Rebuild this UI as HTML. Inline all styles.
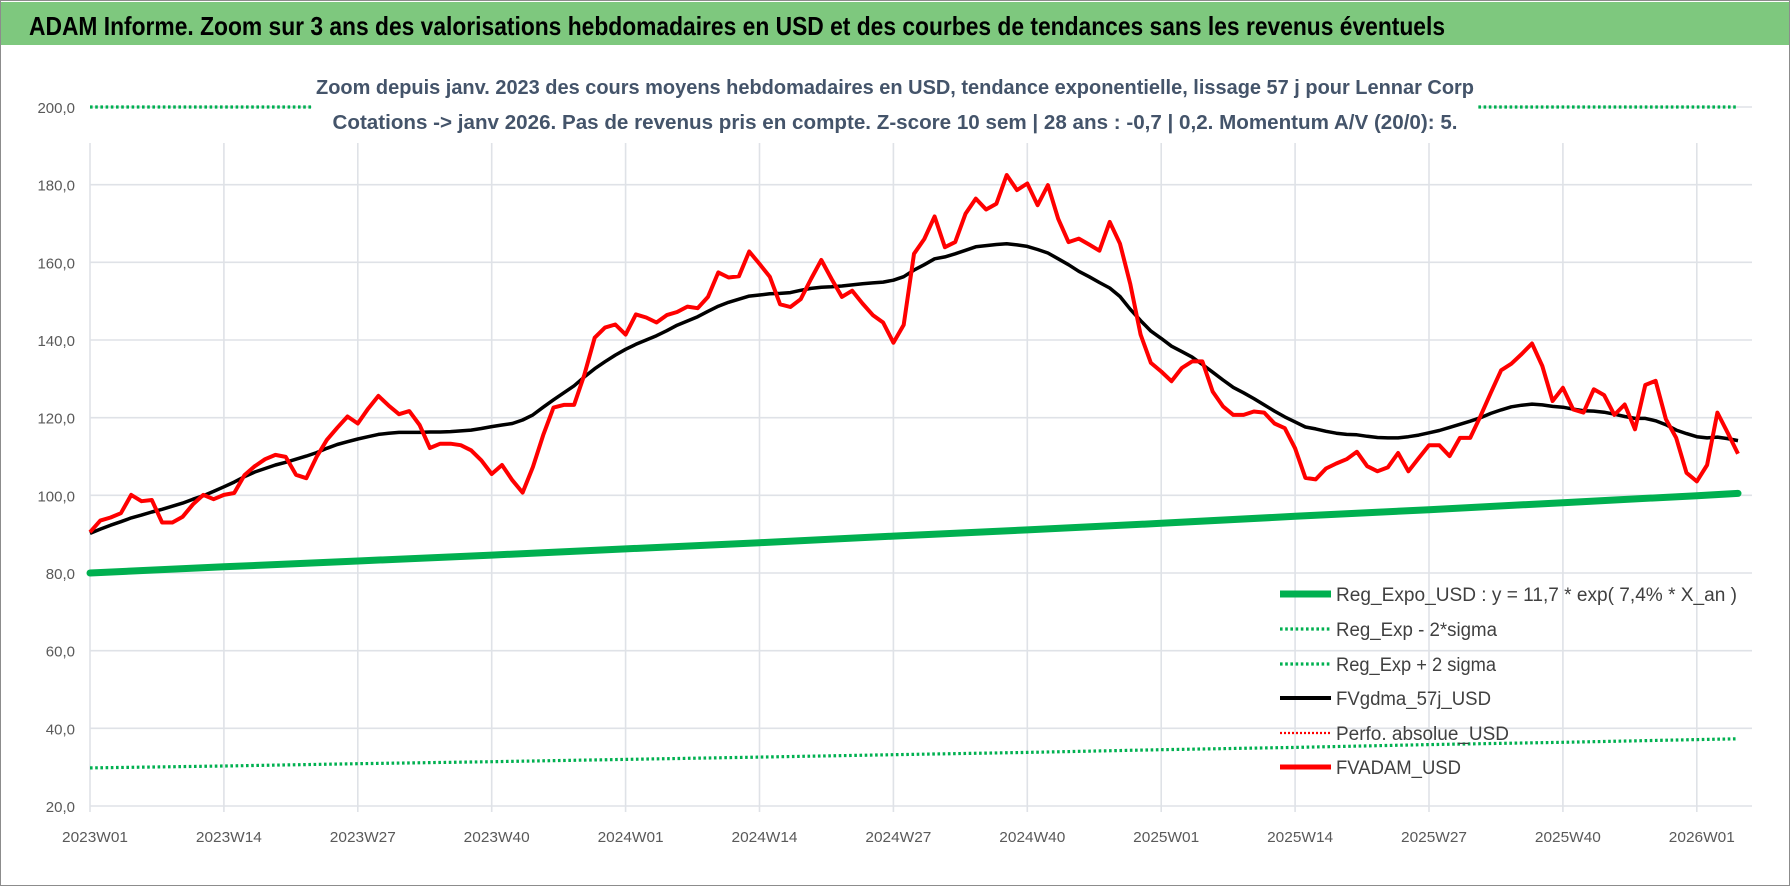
<!DOCTYPE html>
<html><head><meta charset="utf-8"><style>
html,body{margin:0;padding:0;background:#fff;}
svg{display:block;font-family:"Liberation Sans",sans-serif;}
</style></head><body>
<svg id="chart" width="1790" height="886" viewBox="0 0 1790 886" xmlns="http://www.w3.org/2000/svg">
<rect x="0.5" y="0.5" width="1789" height="885" fill="#fff" stroke="#8c8c8c" stroke-width="1"/>
<rect x="1" y="2" width="1788" height="43" fill="#7ec87e"/>
<text x="29" y="35" font-size="26" font-weight="bold" fill="#000" textLength="1416" lengthAdjust="spacingAndGlyphs">ADAM Informe. Zoom sur 3 ans des valorisations hebdomadaires en USD et des courbes de tendances sans les revenus éventuels</text>
<g id="grid"></g>
<g id="series"></g>
<rect x="312" y="60" width="1166" height="82" fill="#fff"/>
<text x="895" y="94" text-anchor="middle" font-size="20" font-weight="bold" fill="#44546a" textLength="1158" lengthAdjust="spacingAndGlyphs">Zoom depuis janv. 2023 des cours moyens hebdomadaires en USD, tendance exponentielle, lissage 57 j pour Lennar Corp</text>
<text x="895" y="129" text-anchor="middle" font-size="20" font-weight="bold" fill="#44546a" textLength="1125" lengthAdjust="spacingAndGlyphs">Cotations -&gt; janv 2026. Pas de revenus pris en compte. Z-score 10 sem | 28 ans : -0,7 | 0,2. Momentum A/V (20/0): 5.</text>
<g id="legend"></g>
</svg>
<script>
const yTicks = [20,40,60,80,100,120,140,160,180,200];
const yTickLabels = ["20,0","40,0","60,0","80,0","100,0","120,0","140,0","160,0","180,0","200,0"];
const xTickWeeks = [0,13,26,39,52,65,78,91,104,117,130,143,156];
const xTickLabels = ["2023W01","2023W14","2023W27","2023W40","2024W01","2024W14","2024W27","2024W40","2025W01","2025W14","2025W27","2025W40","2026W01"];
const fvadam = [90.5,93.5,94.3,95.4,100.1,98.5,98.8,93,93,94.5,97.7,100.1,99,100.1,100.6,105.2,107.5,109.3,110.4,109.9,105.3,104.4,109.9,114.3,117.4,120.3,118.5,122.3,125.6,123.1,120.9,121.7,118.1,112.2,113.3,113.3,112.9,111.6,109,105.5,107.8,103.9,100.7,107.3,115.5,122.6,123.3,123.3,131.1,140.6,143.2,144,141.4,146.6,145.8,144.5,146.4,147.2,148.6,148.2,151.1,157.4,156.1,156.4,162.8,159.6,156.3,149.2,148.5,150.5,155.7,160.6,155.7,151.1,152.7,149.4,146.4,144.5,139.3,143.9,162.2,166,171.8,163.9,165.2,172.5,176.4,173.6,175.1,182.5,178.6,180.3,174.7,179.9,171.2,165.2,166.1,164.6,163,170.4,164.8,154.4,141.4,134.1,131.9,129.4,132.8,134.5,134.5,126.7,122.9,120.7,120.7,121.6,121.3,118.5,117.3,112.1,104.5,104.1,106.9,108.2,109.3,111.2,107.5,106.2,107.2,110.9,106.2,109.6,112.9,112.9,110.1,114.8,114.8,120.4,126.4,132.2,133.9,136.4,139.1,133.3,124.3,127.7,122.1,121.3,127.3,125.8,120.7,123.4,117,128.4,129.5,119.6,114.8,105.8,103.6,107.8,121.3,116.1,110.7];
const fvgdma = [90.2,91.3,92.3,93.2,94.2,94.9,95.7,96.4,97.2,98.0,99.0,99.9,101.0,102.2,103.4,104.8,106.0,106.9,107.8,108.5,109.3,110.1,111.0,112.1,113.1,113.8,114.5,115.1,115.7,116.0,116.2,116.2,116.2,116.3,116.3,116.4,116.6,116.8,117.2,117.7,118.1,118.5,119.4,120.7,122.7,124.6,126.4,128.2,130.5,132.6,134.4,136.1,137.6,138.9,140.0,141.1,142.4,143.8,144.9,146.0,147.4,148.7,149.7,150.5,151.3,151.6,151.9,152.0,152.2,152.8,153.3,153.6,153.7,153.9,154.2,154.5,154.7,154.9,155.4,156.3,158.0,159.4,160.9,161.4,162.2,163.1,164.0,164.3,164.6,164.8,164.5,164.1,163.3,162.4,160.9,159.4,157.7,156.3,154.8,153.4,151.2,147.9,145.0,142.3,140.4,138.4,137.0,135.6,133.7,131.7,129.7,127.8,126.4,124.9,123.3,121.7,120.2,118.9,117.6,117.1,116.5,116.0,115.7,115.6,115.2,114.9,114.8,114.8,115.1,115.5,116.1,116.7,117.5,118.3,119.1,120.0,121.1,122.0,122.8,123.2,123.5,123.3,122.9,122.7,122.2,121.8,121.7,121.4,120.9,120.3,119.8,119.8,119.2,118.2,116.8,115.9,115.1,114.8,115.0,114.6,114.1];
const regWeeks = [0,13,26,39,52,65,78,91,104,117,130,143,156,160];
const regExpo = [80,81.6,83.1,84.6,86.2,87.8,89.5,91.1,92.8,94.6,96.3,98.1,99.9,100.5];
const regLow = [29.8,30.3,30.9,31.4,32.0,32.6,33.2,33.8,34.5,35.1,35.8,36.4,37.1,37.3];
const regHigh = [200,200,200,200,200,200,200,200,200,200,200,200,200,200];
const legendLabels = ["Reg_Expo_USD : y = 11,7 * exp( 7,4% *  X_an )","Reg_Exp - 2*sigma","Reg_Exp + 2 sigma","FVgdma_57j_USD","Perfo. absolue_USD","FVADAM_USD"];

const NS="http://www.w3.org/2000/svg";
const X0=90, XSTEP=10.3, PL=90, PR=1752;
function xS(w){return X0+w*XSTEP;}
function yS(v){return 806-(v-20)*(699/180);}
function mk(tag,attrs,parent){const e=document.createElementNS(NS,tag);for(const k in attrs)e.setAttribute(k,attrs[k]);parent.appendChild(e);return e;}
const grid=document.getElementById('grid');
const series=document.getElementById('series');
const legend=document.getElementById('legend');

yTicks.forEach((v,i)=>{
  const l=mk('line',{x1:PL,x2:PR,y1:yS(v),y2:yS(v),stroke:'#dfe2e7','stroke-width':1.6},grid);
  
  
  const t=mk('text',{x:75,y:yS(v)+6,'text-anchor':'end','font-size':15,fill:'#595959'},grid);
  
  
  t.textContent=yTickLabels[i];
});
xTickWeeks.forEach((w,i)=>{
  const l=mk('line',{x1:xS(w),x2:xS(w),y1:143,y2:812,stroke:'#dfe2e7','stroke-width':1.6},grid);
  
  
  const t=mk('text',{x:xS(w)+5,y:842,'text-anchor':'middle','font-size':15,fill:'#595959',textLength:66,lengthAdjust:'spacingAndGlyphs'},grid);
  
  
  t.textContent=xTickLabels[i];
});
function pts(ws,vs){return vs.map((v,i)=>xS(ws[i]).toFixed(1)+','+yS(v).toFixed(1)).join(' ');}
const idx=fvadam.map((_,i)=>i);
const dot={'stroke-dasharray':'2.6 2.6','stroke-width':3.2};
let p;
p=mk('polyline',Object.assign({points:pts(regWeeks,regHigh),fill:'none',stroke:'#00b050'},dot),series);


p=mk('polyline',Object.assign({points:pts(regWeeks,regLow),fill:'none',stroke:'#00b050'},dot),series);


p=mk('polyline',{points:pts(regWeeks,regExpo),fill:'none',stroke:'#00b050','stroke-width':7,'stroke-linecap':'round'},series);


p=mk('polyline',{points:pts(idx,fvgdma),fill:'none',stroke:'#000','stroke-width':3.5,'stroke-linejoin':'round'},series);


p=mk('polyline',{points:pts(idx,fvadam),fill:'none',stroke:'#ff0000','stroke-width':4,'stroke-linejoin':'round'},series);



const legRows=[594,629,664,698,733,767];
const legW=[401,161,160,155,173,125];
const legStyles=[
 {stroke:'#00b050','stroke-width':7},
 {stroke:'#00b050','stroke-width':3.2,'stroke-dasharray':'2.6 2.6'},
 {stroke:'#00b050','stroke-width':3.2,'stroke-dasharray':'2.6 2.6'},
 {stroke:'#000','stroke-width':4},
 {stroke:'#ff0000','stroke-width':2.2,'stroke-dasharray':'2 2'},
 {stroke:'#ff0000','stroke-width':5}];
legendLabels.forEach((lab,i)=>{
  const g=mk('g',{},legend);
  
  
  mk('line',Object.assign({x1:1280,x2:1331,y1:legRows[i],y2:legRows[i]},legStyles[i]),g);
  const t=mk('text',{x:1336,y:legRows[i]+7,'font-size':19,fill:'#404040',textLength:legW[i],lengthAdjust:'spacingAndGlyphs'},g);
  
  
  t.textContent=lab;
});
</script>
</body></html>
